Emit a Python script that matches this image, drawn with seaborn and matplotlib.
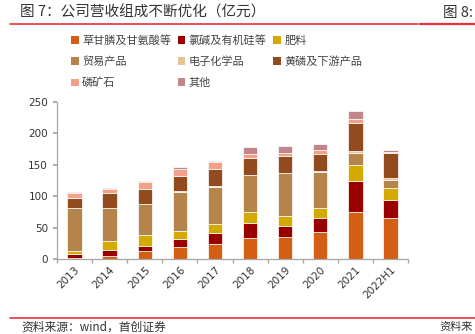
import matplotlib
matplotlib.use("Agg")
import matplotlib.pyplot as plt
import seaborn as sns
import pandas as pd
import numpy as np
from matplotlib.lines import Line2D
from matplotlib.patches import Patch

sns.set_theme(style="white")
plt.rcParams['font.family'] = ['Noto Sans CJK SC', 'DejaVu Sans']

years = ["2013", "2014", "2015", "2016", "2017", "2018", "2019", "2020", "2021", "2022H1"]

# Revenue by segment (亿元)
glyphosate = [1.0, 4.8, 13.3, 19.7, 24.5, 33.0, 35.6, 43.6, 75.0, 65.4]
chlor_alkali = [7.5, 9.0, 7.4, 11.7, 17.5, 23.9, 17.1, 21.8, 48.4, 29.3]
fertilizer = [4.3, 15.5, 17.6, 13.8, 14.4, 18.1, 15.4, 16.0, 25.5, 18.6]
trade = [68.1, 52.1, 49.5, 62.2, 59.0, 59.0, 68.6, 56.4, 19.7, 11.7]
electronic = [0.8, 0.5, 0.5, 0.5, 0.5, 0.5, 0.5, 1.6, 3.7, 3.2]
yellow_p = [14.8, 22.9, 22.9, 24.0, 28.2, 26.1, 26.6, 27.6, 44.2, 40.4]
phosphate_rock = [8.0, 7.4, 11.1, 11.7, 9.6, 5.9, 5.3, 6.9, 6.9, 1.0]
others = [2.2, 1.1, 1.7, 2.1, 2.7, 11.7, 11.2, 9.1, 12.8, 3.3]

segments = ["草甘膦及甘氨酸等", "氯碱及有机硅等", "肥料", "贸易产品",
            "电子化学品", "黄磷及下游产品", "磷矿石", "其他"]
values = [glyphosate, chlor_alkali, fertilizer, trade,
          electronic, yellow_p, phosphate_rock, others]
colors = ["#D35E14", "#9A0000", "#D4AA00", "#B5844A",
          "#E2C497", "#924B1E", "#F2A088", "#C4858A"]

df = pd.DataFrame({seg: vals for seg, vals in zip(segments, values)}, index=years)
df.index.name = "year"

fig = plt.figure(figsize=(4.75, 3.34), dpi=100)
ax = fig.add_axes([0.12, 0.2246, 0.739, 0.47])

bottom = np.zeros(len(years))
for seg, col in zip(segments, colors):
    sns.barplot(x=df.index, y=df[seg].values, bottom=bottom, color=col,
                width=0.41, ax=ax, edgecolor="white", linewidth=0.5,
                saturation=1)
    bottom += df[seg].values

ax.set_ylim(0, 250)
ax.set_yticks(range(0, 251, 50))
ax.set_xlim(-0.5, len(years) - 0.5)
ax.set_xlabel("")
ax.set_ylabel("")
for s in ["top", "right"]:
    ax.spines[s].set_visible(False)
for s in ["left", "bottom"]:
    ax.spines[s].set_color("#A6A6A6")
    ax.spines[s].set_linewidth(0.9)

ax.set_xticks(range(len(years)))
ax.set_xticklabels(years, rotation=45, ha="right", rotation_mode="anchor",
                   fontsize=7.5, color="#333333", family="DejaVu Sans")
ax.tick_params(axis="x", which="major", length=0, pad=4)
ax.set_xticks(np.arange(-0.5, len(years), 1.0), minor=True)
ax.tick_params(axis="x", which="minor", length=3, color="#A6A6A6", direction="out", bottom=True)
ax.tick_params(axis="y", length=3, color="#A6A6A6", direction="out", left=True,
               labelsize=7.5, labelcolor="#333333")
for t in ax.get_yticklabels():
    t.set_family("DejaVu Sans")

# legend laid out row by row across 3 columns
order = [0, 3, 6, 1, 4, 7, 2, 5]
handles = [Patch(facecolor=colors[i], edgecolor="none") for i in order]
labels = [segments[i] for i in order]
leg = fig.legend(handles, labels, loc="upper left", bbox_to_anchor=(0.128, 0.925),
                 ncol=3, frameon=False, fontsize=8, handlelength=0.7, handleheight=0.7,
                 handletextpad=0.3, columnspacing=0.6, labelspacing=0.95)
for t in leg.get_texts():
    t.set_color("#444444")

# header
fig.text(0.042, 0.962, "图 7：公司营收组成不断优化（亿元）", fontsize=10.5,
         color="#333333", va="center", ha="left")
fig.text(0.932, 0.962, "图 8:", fontsize=10.5, color="#333333", va="center", ha="left")
fig.add_artist(Line2D([0.021, 0.88], [0.927, 0.927], transform=fig.transFigure,
                      color="#E8303A", linewidth=1.2))
fig.add_artist(Line2D([0.885, 1.0], [0.927, 0.927], transform=fig.transFigure,
                      color="#E8303A", linewidth=1.6))

# footer
fig.add_artist(Line2D([0.021, 1.0], [0.048, 0.048], transform=fig.transFigure,
                      color="#E8303A", linewidth=1.2))
fig.text(0.046, 0.02, "资料来源：wind，首创证券", fontsize=8.5, style="italic",
         color="#333333", va="center", ha="left")
fig.text(0.925, 0.02, "资料来", fontsize=8, style="italic",
         color="#333333", va="center", ha="left")

fig.savefig("out.png", dpi=100)
